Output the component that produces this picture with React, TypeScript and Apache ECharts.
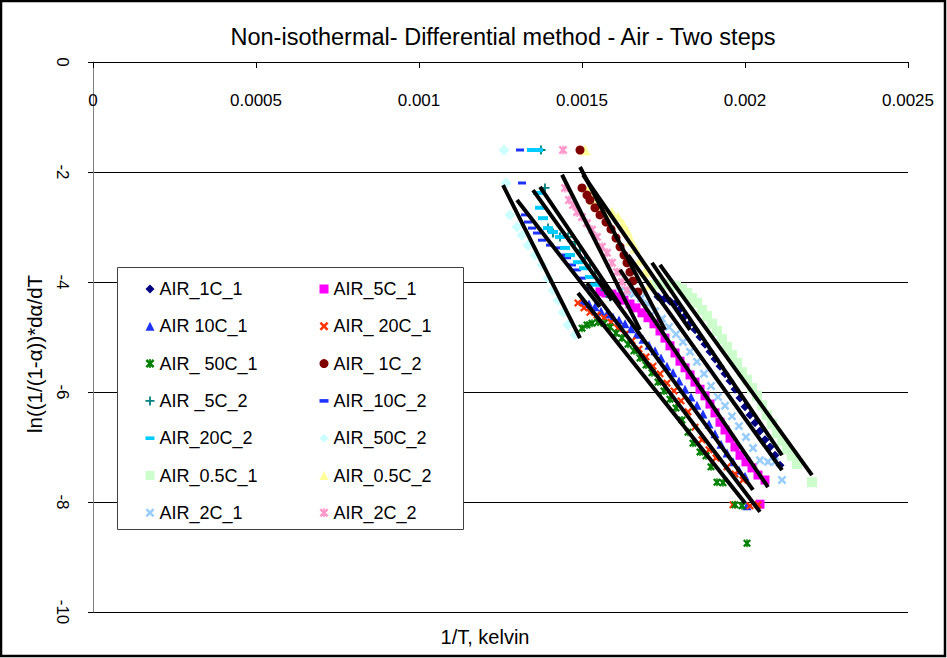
import React, { useEffect, useRef } from "react";
import * as echarts from "echarts";

const FONT = "Liberation Sans, Arial, sans-serif";

const chartTitle = "Non-isothermal- Differential method - Air - Two steps";
const xAxisTitle = "1/T, kelvin";
const yAxisTitle = "ln((1/(1-α))*dα/dT";

const xTickLabels = ["0", "0.0005", "0.001", "0.0015", "0.002", "0.0025"];
const yTickLabels = ["-10", "-8", "-6", "-4", "-2", "0"];

// ---- series data: [1/T, ln(...)] ----
const air1C1 = [
  [0.0017331, -4.27], [0.0017515, -4.31], [0.0017699, -4.35], [0.0017853, -4.4], [0.0018006, -4.49],
  [0.001816, -4.62], [0.0018313, -4.75], [0.0018466, -4.87], [0.001862, -5.0], [0.0018773, -5.13],
  [0.0018926, -5.27], [0.001908, -5.4], [0.0019233, -5.53], [0.0019387, -5.67], [0.001954, -5.8],
  [0.0019693, -5.95], [0.0019847, -6.11], [0.002, -6.27], [0.0020153, -6.42], [0.0020307, -6.56],
  [0.002046, -6.71], [0.0020613, -6.87], [0.0020767, -7.0], [0.002092, -7.15], [0.0021074, -7.33],
];
const air5C1 = [
  [0.0015552, -4.18], [0.0015736, -4.2], [0.001592, -4.22], [0.0016104, -4.27], [0.0016288, -4.33],
  [0.0016472, -4.4], [0.0016656, -4.47], [0.001684, -4.56], [0.0017025, -4.65], [0.0017209, -4.76],
  [0.0017393, -4.89], [0.0017546, -5.02], [0.0017699, -5.16], [0.0017853, -5.29], [0.0018006, -5.44],
  [0.001816, -5.56], [0.0018313, -5.69], [0.0018466, -5.82], [0.001862, -5.95], [0.0018773, -6.07],
  [0.0018926, -6.22], [0.001908, -6.38], [0.0019233, -6.55], [0.0019387, -6.69], [0.001954, -6.84],
  [0.0019693, -7.0], [0.0019847, -7.15], [0.002003, -7.27], [0.0020215, -7.38], [0.0020399, -7.51],
  [0.0020613, -7.6], [0.002046, -8.04],
];
const air10C1 = [
  [0.0015031, -4.35], [0.0015215, -4.4], [0.0015399, -4.45], [0.0015583, -4.53], [0.0015767, -4.58],
  [0.0015951, -4.64], [0.0016135, -4.69], [0.0016319, -4.76], [0.0016503, -4.85], [0.0016687, -4.95],
  [0.0016871, -5.04], [0.0017055, -5.15], [0.0017239, -5.25], [0.0017423, -5.38], [0.0017607, -5.53],
  [0.0017791, -5.65], [0.0017975, -5.8], [0.001816, -5.95], [0.0018344, -6.09], [0.0018528, -6.24],
  [0.0018712, -6.4], [0.0018896, -6.58], [0.001908, -6.76], [0.0019264, -6.95], [0.0019448, -7.11],
  [0.0019632, -7.27], [0.0019816, -7.42], [0.002, -7.53], [0.0020061, -8.07],
];
const air20C1 = [
  [0.0014877, -4.38], [0.0015061, -4.47], [0.0015245, -4.55], [0.001546, -4.6], [0.0015675, -4.65],
  [0.001589, -4.73], [0.0016104, -4.84], [0.0016319, -4.95], [0.0016534, -5.07], [0.0016748, -5.22],
  [0.0016963, -5.36], [0.0017178, -5.53], [0.0017393, -5.67], [0.0017607, -5.84], [0.0017822, -5.98],
  [0.0018037, -6.16], [0.0018252, -6.36], [0.0018466, -6.64], [0.0018681, -6.87], [0.0018896, -7.05],
  [0.001911, -7.2], [0.0019448, -7.36], [0.0019693, -7.49], [0.0019939, -7.6], [0.0019632, -8.05],
  [0.0020153, -8.07], [0.0020399, -8.05],
];
const air50C1 = [
  [0.0015, -4.84], [0.0015153, -4.78], [0.0015307, -4.75], [0.0015491, -4.73], [0.0015675, -4.75],
  [0.0015859, -4.82], [0.0016043, -4.93], [0.0016227, -5.02], [0.0016411, -5.13], [0.0016595, -5.25],
  [0.0016779, -5.38], [0.0016963, -5.51], [0.0017147, -5.65], [0.0017331, -5.82], [0.0017515, -5.98],
  [0.0017699, -6.13], [0.0017883, -6.29], [0.0018067, -6.51], [0.0018252, -6.73], [0.0018405, -6.93],
  [0.001862, -7.09], [0.0018804, -7.16], [0.0018957, -7.36], [0.0019141, -7.64], [0.0019325, -7.65],
  [0.0019693, -8.05], [0.0019908, -8.07], [0.0020061, -8.75],
];
const air1C2 = [
  [0.0014939, -1.6], [0.0015, -2.29], [0.0015153, -2.42], [0.0015245, -2.51], [0.0015399, -2.65],
  [0.0015552, -2.78], [0.0015736, -2.91], [0.001589, -3.04], [0.0016043, -3.2], [0.0016166, -3.36],
  [0.0016288, -3.51], [0.001638, -3.65], [0.0016472, -3.82], [0.0016564, -3.98], [0.0016718, -4.18],
];
const air5C2 = [
  [0.0013742, -1.6], [0.0013865, -2.29], [0.0013957, -3.02], [0.001411, -3.11], [0.0014325, -3.18],
  [0.0014571, -3.18], [0.0014785, -3.27], [0.0014939, -3.42], [0.0015092, -3.56], [0.0015245, -3.69],
  [0.0015399, -3.84], [0.0015552, -4.0], [0.0015706, -4.15], [0.0015859, -4.27],
];
const air10C2 = [
  [0.0013098, -1.6], [0.001316, -2.2], [0.0013252, -2.78], [0.0013344, -2.91], [0.0013466, -3.02],
  [0.001362, -3.11], [0.0013773, -3.24], [0.0014018, -3.33], [0.0014264, -3.38], [0.0014417, -3.51],
  [0.001454, -3.56], [0.0014693, -3.69], [0.0014847, -3.78], [0.0015, -3.93], [0.0015184, -4.11],
];
const air20C2 = [
  [0.0013466, -1.6], [0.001365, -1.6], [0.001365, -2.38], [0.0013712, -2.65], [0.0013804, -2.84],
  [0.0013957, -3.02], [0.001411, -3.09], [0.0014325, -3.18], [0.0014479, -3.38], [0.0014632, -3.51],
  [0.0014877, -3.64], [0.0015061, -3.75], [0.0015245, -3.91], [0.0015399, -4.05],
];
const air50C2 = [
  [0.0012607, -1.6], [0.0012669, -2.2], [0.0012791, -2.78], [0.0013006, -3.0], [0.001316, -3.15],
  [0.0013344, -3.33], [0.0013558, -3.51], [0.0013773, -3.69], [0.0013957, -3.93], [0.001411, -4.15],
  [0.0014264, -4.33], [0.0014417, -4.55], [0.0014571, -4.78], [0.0014785, -4.96],
];
const air05C1 = [
  [0.0017147, -4.05], [0.0017331, -4.04], [0.0017515, -4.04], [0.0017699, -4.05], [0.0017883, -4.07],
  [0.0018067, -4.13], [0.0018221, -4.2], [0.0018374, -4.29], [0.0018528, -4.38], [0.0018681, -4.51],
  [0.0018834, -4.62], [0.0018988, -4.76], [0.0019141, -4.89], [0.0019294, -5.04], [0.0019448, -5.18],
  [0.0019601, -5.33], [0.0019755, -5.47], [0.0019908, -5.64], [0.0020061, -5.78], [0.0020215, -5.93],
  [0.0020368, -6.07], [0.0020521, -6.24], [0.0020675, -6.42], [0.0020828, -6.58], [0.0020982, -6.75],
  [0.0021135, -6.89], [0.0021288, -7.04], [0.0021442, -7.16], [0.0021595, -7.31], [0.0022055, -7.64],
];
const air05C2 = [
  [0.0015092, -1.6], [0.0015184, -2.33], [0.0015337, -2.51], [0.0015491, -2.6], [0.0015706, -2.65],
  [0.001592, -2.73], [0.0016104, -2.82], [0.0016258, -2.95], [0.001638, -3.07], [0.0016503, -3.24],
  [0.0016626, -3.38], [0.0016779, -3.6], [0.0016933, -3.82], [0.0017086, -4.05],
];
const air2C1 = [
  [0.0016166, -4.16], [0.001638, -4.18], [0.0016595, -4.22], [0.001681, -4.29], [0.0017025, -4.4],
  [0.0017239, -4.53], [0.0017454, -4.67], [0.0017669, -4.82], [0.0017883, -4.95], [0.0018098, -5.09],
  [0.0018313, -5.27], [0.0018528, -5.45], [0.0018742, -5.67], [0.0018957, -5.89], [0.0019172, -6.09],
  [0.0019387, -6.25], [0.0019601, -6.44], [0.0019816, -6.62], [0.002003, -6.82], [0.0020245, -7.02],
  [0.002046, -7.24], [0.0020706, -7.27], [0.002092, -7.27], [0.0021135, -7.6],
];
const air2C2 = [
  [0.0014417, -1.6], [0.0014479, -2.29], [0.0014601, -2.51], [0.0014724, -2.6], [0.0014847, -2.73],
  [0.0015, -2.82], [0.0015153, -2.93], [0.0015307, -3.05], [0.001546, -3.18], [0.0015613, -3.36],
  [0.0015767, -3.47], [0.001592, -3.65], [0.0016074, -3.82], [0.0016227, -4.0], [0.001638, -4.15],
];

// ---- linear trend lines: [x1, y1, x2, y2] ----
const trend1C1 = [0.0017147, -3.65, 0.0021135, -7.15];
const trend5C1 = [0.0016166, -3.78, 0.0020706, -7.73];
const trend10C1 = [0.0015552, -3.96, 0.0020245, -7.78];
const trend20C1 = [0.0015153, -4.02, 0.002046, -8.18];
const trend50C1 = [0.0014877, -4.2, 0.002, -8.02];
const trend1C2 = [0.0014939, -1.91, 0.0017546, -4.87];
const trend5C2 = [0.0013712, -2.27, 0.0016166, -4.42];
const trend10C2 = [0.0013006, -2.51, 0.0015552, -4.45];
const trend20C2 = [0.0013497, -2.33, 0.001592, -4.33];
const trend50C2 = [0.0012577, -2.24, 0.0014939, -5.02];
const trend05C1 = [0.0017393, -3.69, 0.0022055, -7.51];
const trend05C2 = [0.0015031, -2.05, 0.0018313, -4.87];
const trend2C1 = [0.0016411, -3.51, 0.0021135, -7.42];
const trend2C2 = [0.0014387, -2.05, 0.0016779, -4.87];

const X_PATH = "path://M0,2L2,0L5,3L8,0L10,2L7,5L10,8L8,10L5,7L2,10L0,8L3,5Z";
const STAR_PATH =
  "path://M0,2L2,0L5,3L8,0L10,2L7,5L10,8L8,10L5,7L2,10L0,8L3,5Z M4.1,0L5.9,0L5.9,10L4.1,10Z";
const PLUS_PATH = "path://M4,0L6,0L6,4L10,4L10,6L6,6L6,10L4,10L4,6L0,6L0,4L4,4Z";
const DASH_PATH = "path://M0,0L10,0L10,4L0,4Z";

type Def = {
  name: string;
  color: string;
  symbol: string;
  size: number | number[];
  data: number[][];
  trend: number[];
  icon?: string;
};

const defs: Def[] = [
  { name: "AIR_1C_1", color: "#000080", symbol: "diamond", size: 9, data: air1C1, trend: trend1C1 },
  { name: "AIR_5C_1", color: "#FF00FF", symbol: "rect", size: 9, data: air5C1, trend: trend5C1 },
  { name: "AIR 10C_1", color: "#1E32FF", symbol: "triangle", size: 9, data: air10C1, trend: trend10C1 },
  { name: "AIR_ 20C_1", color: "#FF3300", symbol: X_PATH, size: 8, data: air20C1, trend: trend20C1 },
  { name: "AIR_ 50C_1", color: "#008000", symbol: STAR_PATH, size: 8, data: air50C1, trend: trend50C1 },
  { name: "AIR_ 1C_2", color: "#800000", symbol: "circle", size: 9, data: air1C2, trend: trend1C2 },
  { name: "AIR _5C_2", color: "#008080", symbol: PLUS_PATH, size: 9, data: air5C2, trend: trend5C2 },
  { name: "AIR_10C_2", color: "#1E32FF", symbol: "rect", size: [8, 3], data: air10C2, trend: trend10C2, icon: DASH_PATH },
  { name: "AIR_20C_2", color: "#00CCFF", symbol: "rect", size: [10, 4], data: air20C2, trend: trend20C2, icon: DASH_PATH },
  { name: "AIR_50C_2", color: "#CCFFFF", symbol: "diamond", size: 11, data: air50C2, trend: trend50C2 },
  { name: "AIR_0.5C_1", color: "#CCFFCC", symbol: "rect", size: 10, data: air05C1, trend: trend05C1 },
  { name: "AIR_0.5C_2", color: "#FFFF99", symbol: "triangle", size: 11, data: air05C2, trend: trend05C2 },
  { name: "AIR_2C_1", color: "#99CCFF", symbol: X_PATH, size: 9, data: air2C1, trend: trend2C1 },
  { name: "AIR_2C_2", color: "#FF99CC", symbol: STAR_PATH, size: 9, data: air2C2, trend: trend2C2 },
];

// draw order: pale series first so the strong colours sit on top
const drawOrder = [
  "AIR_0.5C_1", "AIR_0.5C_2", "AIR_50C_2", "AIR_2C_1", "AIR_2C_2", "AIR_1C_1", "AIR_5C_1",
  "AIR 10C_1", "AIR_ 20C_1", "AIR_ 50C_1", "AIR_ 1C_2", "AIR _5C_2", "AIR_10C_2", "AIR_20C_2",
];

const legendCol1 = ["AIR_1C_1", "AIR 10C_1", "AIR_ 50C_1", "AIR _5C_2", "AIR_20C_2", "AIR_0.5C_1", "AIR_2C_1"];
const legendCol2 = ["AIR_5C_1", "AIR_ 20C_1", "AIR_ 1C_2", "AIR_10C_2", "AIR_50C_2", "AIR_0.5C_2", "AIR_2C_2"];

function legendData(names: string[]) {
  return names.map((n) => {
    const d = defs.find((s) => s.name === n)!;
    return d.icon ? { name: n, icon: d.icon } : { name: n };
  });
}

export default function App() {
  const ref = useRef<HTMLDivElement>(null);

  useEffect(() => {
    if (!ref.current) return;
    const chart = echarts.init(ref.current, undefined, { renderer: "svg" });

    const scatterSeries = drawOrder.map((n) => {
      const d = defs.find((s) => s.name === n)!;
      return {
        name: d.name,
        type: "scatter",
        data: d.data,
        symbol: d.symbol,
        symbolSize: d.size,
        itemStyle: { color: d.color, opacity: 1 },
        z: 2,
        silent: true,
      };
    });
    const trendSeries = defs.map((d) => ({
      name: "trend " + d.name,
      type: "line",
      data: [
        [d.trend[0], d.trend[1]],
        [d.trend[2], d.trend[3]],
      ],
      showSymbol: false,
      symbol: "none",
      lineStyle: { color: "#000", width: 4 },
      itemStyle: { color: "#000" },
      z: 5,
      silent: true,
    }));

    const legendCommon = {
      orient: "vertical",
      padding: 0,
      itemWidth: 9,
      itemHeight: 9,
      itemGap: 17.3,
      selectedMode: false,
      textStyle: { fontFamily: FONT, fontSize: 18, color: "#000", lineHeight: 20 },
      z: 10,
    };

    chart.setOption({
      animation: false,
      backgroundColor: "#fff",
      grid: { left: 93, right: 39, top: 62, bottom: 46, containLabel: false },
      xAxis: {
        type: "value",
        min: 0,
        max: 0.0025,
        interval: 0.0005,
        position: "top",
        axisLine: { show: true, onZero: false, lineStyle: { color: "#000", width: 1 } },
        axisTick: { show: true, inside: true, length: 6, lineStyle: { color: "#000" } },
        axisLabel: {
          inside: true,
          margin: 30,
          fontFamily: FONT,
          fontSize: 17,
          color: "#000",
          formatter: (v: number) => xTickLabels[Math.round(v / 0.0005)] ?? "",
        },
        splitLine: { show: false },
      },
      yAxis: {
        type: "value",
        min: -10,
        max: 0,
        interval: 2,
        axisLine: { show: true, onZero: false, lineStyle: { color: "#808080", width: 1 } },
        axisTick: { show: true, length: 5, lineStyle: { color: "#000" } },
        axisLabel: {
          rotate: -90,
          margin: 22,
          fontFamily: FONT,
          fontSize: 17,
          color: "#000",
          formatter: (v: number) => yTickLabels[Math.round((v + 10) / 2)] ?? "",
        },
        splitLine: { show: true, lineStyle: { color: "#000", width: 1 } },
      },
      legend: [
        { ...legendCommon, left: 145.5, top: 279, data: legendData(legendCol1) },
        { ...legendCommon, left: 319.5, top: 279, data: legendData(legendCol2) },
      ],
      graphic: [
        {
          type: "rect",
          z: 8,
          shape: { x: 117.5, y: 267.5, width: 346, height: 262 },
          style: { fill: "#fff", stroke: "#404040", lineWidth: 1 },
          silent: true,
        },
        {
          type: "text",
          z: 10,
          x: 503,
          y: 37,
          style: {
            text: chartTitle,
            fontFamily: FONT,
            fontSize: 23.5,
            fill: "#000",
            align: "center",
            verticalAlign: "middle",
          },
        },
        {
          type: "text",
          z: 10,
          x: 485,
          y: 637,
          style: {
            text: xAxisTitle,
            fontFamily: FONT,
            fontSize: 20,
            fill: "#000",
            align: "center",
            verticalAlign: "middle",
          },
        },
        {
          type: "text",
          z: 10,
          x: 34,
          y: 354,
          rotation: Math.PI / 2,
          style: {
            text: yAxisTitle,
            fontFamily: FONT,
            fontSize: 20.5,
            fill: "#000",
            align: "center",
            verticalAlign: "middle",
          },
        },
        {
          type: "rect",
          z: 20,
          shape: { x: 1, y: 1, width: 944, height: 655 },
          style: { fill: "none", stroke: "#000", lineWidth: 2.5 },
          silent: true,
        },
      ],
      series: [...scatterSeries, ...trendSeries],
    });

    return () => chart.dispose();
  }, []);

  return (
    <div
      ref={ref}
      style={{ position: "absolute", left: 0, top: 0, width: 947, height: 658 }}
    />
  );
}
